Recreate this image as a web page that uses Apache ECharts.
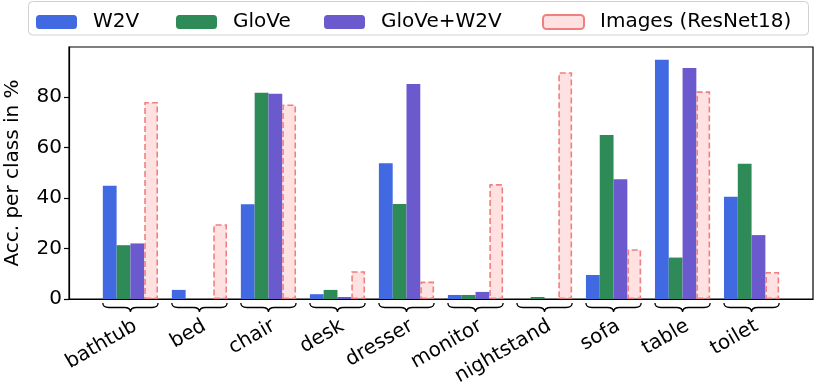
<!DOCTYPE html>
<html>
<head>
<meta charset="utf-8">
<script src="https://cdn.jsdelivr.net/npm/echarts@6/dist/echarts.min.js"></script>
<style>
  html, body { margin: 0; padding: 0; background: #fff; }
  #main { width: 814px; height: 383px; }
</style>
</head>
<body>
<div id="main"></div>
<script>
// classes on the x axis
var categories = ['bathtub', 'bed', 'chair', 'desk', 'dresser', 'monitor', 'nightstand', 'sofa', 'table', 'toilet'];

// accuracy per class
var w2v      = [44.8, 3.6, 37.5, 1.9, 53.7, 1.6, 0,   9.5, 94.7, 40.5];
var glove    = [21.3, 0,   81.6, 3.6, 37.6, 1.6, 0.8, 64.9, 16.4, 53.5];
var gloveW2v = [22.0, 0,   81.2, 0.8, 85.1, 2.8, 0,   47.4, 91.4, 25.3];
var images   = [78.0, 29.6, 77.0, 11.0, 6.9, 45.5, 89.8, 19.7, 82.2, 10.7];

var yTicks = [0, 20, 40, 60, 80];
var xTicks = categories.map(function (c, i) { return i; });

var FONT = 'DejaVu Sans';

function pairs(arr) {
    return arr.map(function (v, i) { return [i, v]; });
}

var seriesNames = ['W2V', 'GloVe', 'GloVe+W2V', 'Images (ResNet18)'];
var legendLeft = [36, 176, 324, 542];

var legends = seriesNames.map(function (n, k) {
    return {
        data: [n],
        left: legendLeft[k],
        top: 12,
        padding: 0,
        itemWidth: 41,
        itemHeight: 14,
        selectedMode: false,
        textStyle: { fontFamily: FONT, fontSize: 20, color: '#000', padding: [0, 0, 0, 11] }
    };
});

var barW = 13.8;

// curly brace under each group of bars
function renderBrace(params, api) {
    var i = api.value(0);
    var p1 = api.coord([i - 0.4, 0]);
    var pm = api.coord([i, 0]);
    var p2 = api.coord([i + 0.4, 0]);
    var y = p1[1];
    var x1 = p1[0], xm = pm[0], x2 = p2[0];
    var yEnd = y + 4, yMid = y + 8.5, yTip = y + 13;
    var d = 'M' + x1 + ' ' + yEnd +
        ' Q' + x1 + ' ' + yMid + ' ' + (x1 + 6) + ' ' + yMid +
        ' L' + (xm - 6) + ' ' + yMid +
        ' Q' + xm + ' ' + yMid + ' ' + xm + ' ' + yTip +
        ' Q' + xm + ' ' + yMid + ' ' + (xm + 6) + ' ' + yMid +
        ' L' + (x2 - 6) + ' ' + yMid +
        ' Q' + x2 + ' ' + yMid + ' ' + x2 + ' ' + yEnd;
    return {
        type: 'path',
        shape: { pathData: d },
        style: { fill: null, stroke: '#000', lineWidth: 1.3 }
    };
}

var option = {
    backgroundColor: '#fff',
    animation: false,
    graphic: [{
        type: 'rect',
        shape: { x: 28.5, y: 1.5, width: 780, height: 33.5, r: 4 },
        style: { fill: '#fff', stroke: '#d0d0d0', lineWidth: 1 },
        z: 0
    }],
    legend: legends,
    grid: {
        left: 69, right: 1, top: 47, bottom: 84,
        outerBoundsMode: 'none',
        containLabel: false,
        show: true, borderColor: '#000', borderWidth: 1.2, backgroundColor: 'transparent'
    },
    xAxis: {
        type: 'value',
        min: -0.89,
        max: 9.89,
        splitLine: { show: false },
        axisLine: { show: true, onZero: false, lineStyle: { color: '#000', width: 1.2 } },
        axisTick: { show: false },
        axisLabel: {
            customValues: xTicks,
            formatter: function (v) { return categories[v]; },
            rotate: 30,
            margin: 17,
            verticalAlign: 'top',
            fontFamily: FONT,
            fontSize: 20,
            color: '#000'
        }
    },
    yAxis: {
        type: 'value',
        min: 0,
        max: 99.75,
        name: 'Acc. per class in %',
        nameLocation: 'middle',
        nameRotate: 90,
        nameGap: 46,
        nameTextStyle: { fontFamily: FONT, fontSize: 20, color: '#000' },
        splitLine: { show: false },
        axisLine: { show: true, onZero: false, lineStyle: { color: '#000', width: 1.2 } },
        axisTick: { show: true, customValues: yTicks, length: 5, lineStyle: { color: '#000', width: 1.2 } },
        axisLabel: {
            customValues: yTicks,
            margin: 7,
            fontFamily: FONT,
            fontSize: 20,
            color: '#000'
        }
    },
    series: [
        {
            name: 'W2V', type: 'bar', barWidth: barW, barGap: '0%',
            itemStyle: { color: '#4169e1' },
            data: pairs(w2v)
        },
        {
            name: 'GloVe', type: 'bar', barWidth: barW, barGap: '0%',
            itemStyle: { color: '#2e8b57' },
            data: pairs(glove)
        },
        {
            name: 'GloVe+W2V', type: 'bar', barWidth: barW, barGap: '0%',
            itemStyle: { color: '#6a5acd' },
            data: pairs(gloveW2v)
        },
        {
            name: 'Images (ResNet18)', type: 'bar', barWidth: barW, barGap: '0%',
            itemStyle: { color: '#ffe1e1', borderColor: '#f08080', borderWidth: 1.6, borderType: [6, 3] },
            data: pairs(images)
        },
        {
            name: 'braces', type: 'custom', clip: false, silent: true,
            renderItem: renderBrace,
            data: xTicks.map(function (i) { return [i, 0]; }),
            z: 3
        }
    ]
};

var myChart = echarts.init(document.getElementById('main'));
myChart.setOption(option);
</script>
</body>
</html>
